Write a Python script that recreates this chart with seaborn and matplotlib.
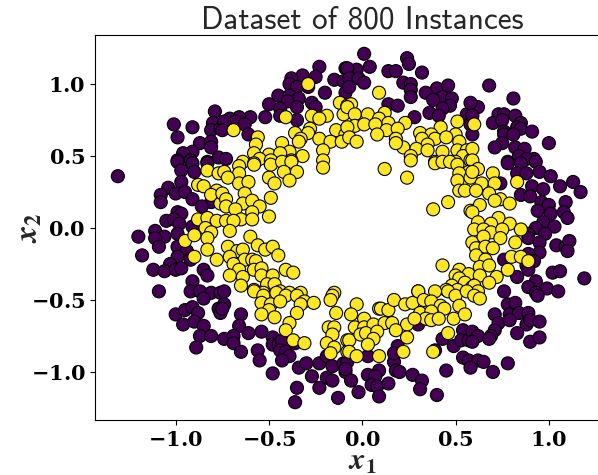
import matplotlib
matplotlib.use("Agg")
import matplotlib.pyplot as plt
import numpy as np
import pandas as pd
import seaborn as sns
from matplotlib.ticker import FuncFormatter

TITLE = "Dataset of 800 Instances"
CLASS_COLORS = {0: "#440154", 1: "#fde725"}
TICKS = [-1.0, -0.5, 0.0, 0.5, 1.0]

# outer ring (label 0)
outer_pts = [
    (-0.79, 0.81), (-0.80, 0.73), (-1.01, 0.72), (-0.91, 0.70), (-0.81, 0.68), (-0.76, 0.69),
    (-0.99, 0.63), (-0.87, 0.59), (-0.81, 0.60), (-0.81, 0.56), (-0.91, 0.53), (-0.96, 0.52),
    (-0.77, 0.49), (-0.99, 0.47), (-0.92, 0.47), (-0.83, 0.46),
    (-0.23, 1.12), (-0.09, 1.11), (-0.32, 1.06), (-0.25, 1.05), (-0.38, 1.04), (-0.39, 1.00),
    (-0.29, 0.98), (-0.35, 0.98), (-0.15, 1.03), (-0.10, 1.02), (-0.45, 0.92), (-0.39, 0.92),
    (-0.34, 0.90), (-0.40, 0.88), (-0.20, 0.94), (-0.09, 0.94), (-0.50, 0.86), (-0.27, 0.87),
    (-0.25, 0.84), (-0.35, 0.84), (-0.44, 0.83), (-0.52, 0.77), (-0.44, 0.78), (-0.35, 0.75),
    (-0.60, 0.77), (-0.66, 0.77), (-0.71, 0.76), (-0.68, 0.74), (-0.63, 0.72), (-0.74, 0.74),
    (-0.75, 0.68), (-0.61, 0.65), (-0.73, 0.48),
    (0.01, 1.21), (0.24, 1.18), (0.25, 1.14), (0.04, 1.12), (-0.03, 1.10), (-0.08, 1.11),
    (0.14, 1.09), (0.18, 1.09), (0.32, 1.08), (-0.07, 1.04), (-0.02, 1.04), (0.01, 1.01),
    (0.22, 1.01), (0.26, 1.00), (-0.07, 0.98), (0.26, 0.96), (0.40, 0.97), (0.46, 0.99),
    (0.34, 0.94), (0.43, 0.91), (0.48, 0.90), (0.26, 0.91), (0.38, 0.89), (0.14, 0.86),
    (0.19, 0.85), (0.47, 0.85), (0.43, 0.83), (0.36, 0.80), (0.41, 0.78), (0.28, 0.77),
    (0.56, 0.79), (0.58, 0.72), (0.59, 0.85),
    (0.68, 0.99), (0.81, 0.90), (0.62, 0.84), (0.58, 0.87), (0.73, 0.79), (0.76, 0.79),
    (0.82, 0.78), (0.59, 0.78), (0.70, 0.73), (0.75, 0.75), (0.85, 0.73), (0.83, 0.70),
    (0.85, 0.69), (0.91, 0.67), (0.76, 0.67), (0.59, 0.65), (0.76, 0.65), (0.81, 0.65),
    (1.00, 0.59), (0.75, 0.59), (0.71, 0.56), (0.82, 0.56), (0.87, 0.55), (0.84, 0.50),
    (0.92, 0.48), (0.78, 0.46), (0.88, 0.48),
    (-1.31, 0.36), (-0.99, 0.46), (-0.91, 0.45), (-0.83, 0.45), (-0.97, 0.40), (-0.90, 0.39),
    (-0.97, 0.32), (-1.04, 0.28), (-1.08, 0.23), (-1.00, 0.24), (-0.95, 0.25), (-1.08, 0.18),
    (-0.91, 0.20), (-0.81, 0.18), (-0.86, 0.15), (-0.99, 0.11), (-0.97, 0.10), (-1.05, 0.05),
    (-1.01, 0.06), (-0.98, 0.03), (-1.11, -0.02), (-1.06, -0.06), (-1.20, -0.06), (-1.11, -0.07),
    (-0.99, -0.04), (-0.91, 0.01), (-1.09, -0.13), (-0.99, -0.13), (-0.94, -0.16), (-1.18, -0.19),
    (-0.99, -0.20), (-1.03, -0.25), (-0.92, -0.22), (-1.12, -0.29), (-1.06, -0.30), (-1.00, -0.29),
    (-0.97, -0.28), (-0.85, -0.29), (-0.83, -0.33), (-0.91, -0.37), (-1.09, -0.44), (-0.92, -0.44),
    (-0.87, -0.44), (-0.81, -0.45), (-0.76, -0.45), (-0.74, -0.44),
    (0.78, 0.45), (0.85, 0.45), (0.93, 0.46), (0.83, 0.38), (0.88, 0.38), (0.95, 0.39),
    (1.01, 0.36), (0.74, 0.31), (0.91, 0.29), (0.97, 0.27), (1.06, 0.29), (1.13, 0.32),
    (1.17, 0.25), (0.85, 0.23), (0.90, 0.22), (0.96, 0.18), (1.00, 0.16), (1.09, 0.18),
    (0.94, 0.12), (1.01, 0.10), (1.08, 0.11), (1.10, 0.07), (0.97, 0.04), (1.03, 0.01),
    (0.93, 0.00), (0.89, -0.04), (0.98, -0.04), (0.89, -0.07), (0.95, -0.10), (1.04, -0.12),
    (1.09, -0.13), (1.11, -0.09), (1.10, -0.16), (0.95, -0.17), (0.89, -0.18), (0.92, -0.23),
    (0.76, -0.22), (0.88, -0.26), (0.89, -0.29), (1.02, -0.31), (1.06, -0.30), (1.19, -0.35),
    (0.83, -0.34), (0.93, -0.37), (0.89, -0.41), (0.99, -0.42), (1.05, -0.44), (0.76, -0.44),
    (0.93, -0.45),
    (-0.85, -0.49), (-1.00, -0.60), (-0.95, -0.57), (-0.91, -0.55), (-0.88, -0.59), (-0.77, -0.56),
    (-0.76, -0.59), (-0.96, -0.67), (-0.90, -0.65), (-0.85, -0.68), (-0.87, -0.75), (-0.81, -0.75),
    (-0.74, -0.77), (-0.89, -0.83),
    (-0.74, -0.53), (-0.65, -0.60), (-0.66, -0.68), (-0.75, -0.56), (-0.61, -0.73), (-0.54, -0.72),
    (-0.69, -0.75), (-0.69, -0.80), (-0.65, -0.86), (-0.56, -0.85), (-0.55, -0.92), (-0.48, -0.76),
    (-0.48, -0.81), (-0.45, -0.81), (-0.43, -0.78), (-0.44, -0.85), (-0.41, -0.86), (-0.39, -0.89),
    (-0.43, -0.92), (-0.36, -0.80), (-0.48, -1.01), (-0.34, -0.97), (-0.30, -0.94), (-0.27, -1.03),
    (-0.23, -0.94), (-0.19, -0.89), (-0.16, -0.96), (-0.10, -0.94), (-0.09, -1.00), (-0.19, -1.04),
    (-0.16, -1.06), (-0.35, -1.11), (-0.23, -1.11), (-0.13, -1.18), (-0.36, -1.21),
    (0.30, -0.67), (-0.08, -0.93), (-0.09, -0.98), (-0.06, -1.06), (-0.02, -1.14), (0.03, -0.89),
    (0.03, -1.02), (0.09, -0.99), (0.07, -1.03), (0.05, -1.09), (0.08, -1.10), (0.09, -1.17),
    (0.14, -1.08), (0.17, -0.93), (0.18, -0.99), (0.20, -1.00), (0.19, -0.82), (0.17, -0.87),
    (0.27, -1.02), (0.32, -1.06), (0.31, -1.12), (0.40, -1.16), (0.45, -0.99), (0.39, -0.85),
    (0.43, -0.77), (0.49, -0.82), (0.54, -0.71), (0.53, -0.78), (0.57, -0.78), (0.54, -0.90),
    (0.57, -0.92),
    (0.94, -0.47), (0.78, -0.53), (0.82, -0.52), (0.71, -0.60), (0.79, -0.60), (0.84, -0.59),
    (0.89, -0.59), (0.73, -0.66), (0.79, -0.64), (0.88, -0.67), (0.90, -0.64), (0.95, -0.65),
    (0.71, -0.71), (0.59, -0.72), (0.62, -0.75), (0.69, -0.75), (0.68, -0.77), (0.83, -0.73),
    (0.90, -0.79), (0.95, -0.76), (0.59, -0.79), (0.62, -0.92), (0.65, -0.93), (0.78, -0.94),
    (0.70, -1.00), (0.58, -0.97),
]

# inner ring (label 1)
inner_pts = [
    (-0.29, 1.00), (-0.12, 0.87), (-0.08, 0.85), (-0.10, 0.79), (-0.41, 0.77), (-0.27, 0.78),
    (-0.19, 0.78), (-0.23, 0.76), (-0.69, 0.68), (-0.28, 0.69), (-0.14, 0.68), (-0.36, 0.66),
    (-0.29, 0.66), (-0.09, 0.65), (-0.56, 0.63), (-0.33, 0.62), (-0.23, 0.62), (-0.17, 0.60),
    (-0.43, 0.59), (-0.34, 0.60), (-0.11, 0.60), (-0.57, 0.58), (-0.39, 0.53), (-0.21, 0.54),
    (-0.58, 0.52), (-0.50, 0.51), (-0.44, 0.52), (-0.32, 0.50), (-0.55, 0.48), (-0.49, 0.47),
    (-0.38, 0.47), (-0.64, 0.46), (-0.58, 0.45), (-0.21, 0.47),
    (0.09, 0.94), (-0.06, 0.86), (-0.08, 0.84), (-0.04, 0.79), (0.03, 0.79), (0.12, 0.80),
    (0.09, 0.76), (0.14, 0.73), (-0.04, 0.71), (0.01, 0.72), (0.07, 0.72), (0.23, 0.73),
    (0.51, 0.74), (-0.08, 0.70), (0.42, 0.70), (0.13, 0.68), (0.08, 0.65), (0.19, 0.69),
    (0.31, 0.66), (0.37, 0.65), (0.50, 0.65), (-0.07, 0.63), (0.18, 0.62), (0.32, 0.62),
    (0.39, 0.62), (0.45, 0.63), (-0.03, 0.60), (0.52, 0.60), (0.22, 0.56), (0.35, 0.58),
    (0.18, 0.59), (0.29, 0.55), (0.35, 0.54), (0.43, 0.53), (0.51, 0.54), (0.56, 0.54),
    (0.26, 0.50), (0.39, 0.46), (0.54, 0.50), (0.58, 0.47), (0.50, 0.46),
    (0.60, 0.72), (0.59, 0.55), (0.59, 0.47),
    (-0.83, 0.40), (-0.77, 0.38), (-0.88, 0.30), (-0.85, 0.29), (-0.78, 0.26), (-0.77, 0.22),
    (-0.81, 0.23), (-0.76, 0.17), (-0.88, 0.06), (-0.83, 0.07), (-0.78, 0.05), (-0.84, 0.00),
    (-0.81, -0.03), (-0.83, -0.07), (-0.95, -0.09), (-0.90, -0.05), (-0.83, -0.15), (-0.90, -0.20),
    (-0.78, -0.22),
    (-0.74, 0.39), (-0.66, 0.43), (-0.58, 0.44), (-0.49, 0.44), (-0.43, 0.46), (-0.38, 0.46),
    (-0.21, 0.42), (-0.66, 0.38), (-0.72, 0.35), (-0.42, 0.39), (-0.35, 0.39), (-0.50, 0.35),
    (-0.66, 0.31), (-0.61, 0.32), (-0.47, 0.31), (-0.39, 0.33), (-0.75, 0.24), (-0.63, 0.24),
    (-0.49, 0.21), (-0.73, 0.20), (-0.64, 0.17), (-0.59, 0.19), (-0.55, 0.15), (-0.73, 0.15),
    (-0.68, 0.13), (-0.59, 0.11), (-0.50, 0.08), (-0.65, 0.06), (-0.59, 0.06), (-0.73, 0.05),
    (-0.69, 0.05), (-0.71, -0.02), (-0.60, -0.06), (-0.72, -0.13), (-0.67, -0.16), (-0.64, -0.15),
    (-0.56, -0.12), (-0.52, -0.15), (-0.48, -0.13), (-0.45, -0.19), (-0.71, -0.20), (-0.63, -0.22),
    (-0.59, -0.22), (-0.69, -0.25), (-0.57, -0.23), (-0.66, -0.29), (-0.58, -0.29), (-0.54, -0.28),
    (-0.41, -0.29), (-0.37, -0.31), (-0.71, -0.33), (-0.64, -0.34), (-0.54, -0.33), (-0.48, -0.33),
    (-0.65, -0.40), (-0.51, -0.39), (-0.47, -0.39), (-0.58, -0.43), (-0.53, -0.45), (-0.44, -0.44),
    (-0.39, -0.45), (-0.33, -0.45), (-0.15, -0.45),
    (0.12, 0.41), (0.26, 0.47), (0.24, 0.35), (0.39, 0.45), (0.43, 0.46), (0.47, 0.46),
    (0.51, 0.44), (0.57, 0.39), (0.52, 0.38), (0.51, 0.33), (0.58, 0.35), (0.52, 0.26),
    (0.55, 0.26), (0.46, 0.18), (0.38, 0.13), (0.58, 0.12), (0.43, -0.26), (0.52, -0.29),
    (0.50, -0.33), (0.57, -0.32), (0.52, -0.35), (0.55, -0.38), (0.48, -0.40), (0.45, -0.43),
    (0.51, -0.43), (0.39, -0.44), (0.30, -0.44), (0.59, -0.41),
    (0.62, 0.41), (0.59, 0.39), (0.70, 0.38), (0.64, 0.31), (0.71, 0.31), (0.83, 0.32),
    (0.61, 0.26), (0.68, 0.24), (0.74, 0.20), (0.71, 0.19), (0.79, 0.17), (0.63, 0.16),
    (0.59, 0.11), (0.73, 0.07), (0.62, 0.04), (0.69, 0.03), (0.79, 0.03), (0.60, -0.01),
    (0.65, -0.01), (0.69, -0.03), (0.75, -0.01), (0.85, -0.01), (0.59, -0.10), (0.65, -0.06),
    (0.74, -0.07), (0.82, -0.10), (0.61, -0.14), (0.66, -0.13), (0.70, -0.14), (0.61, -0.19),
    (0.66, -0.22), (0.80, -0.20), (0.85, -0.20), (0.89, -0.23), (0.63, -0.27), (0.68, -0.26),
    (0.78, -0.29), (0.72, -0.34), (0.63, -0.33), (0.68, -0.38), (0.60, -0.40), (0.62, -0.44),
    (-0.58, -0.44), (-0.53, -0.47), (-0.46, -0.45), (-0.41, -0.47), (-0.35, -0.47), (-0.31, -0.51),
    (-0.26, -0.52), (-0.54, -0.52), (-0.49, -0.53), (-0.44, -0.51), (-0.33, -0.53), (-0.50, -0.57),
    (-0.54, -0.60), (-0.47, -0.62), (-0.35, -0.59), (-0.16, -0.47), (-0.17, -0.50), (-0.14, -0.59),
    (-0.39, -0.66), (-0.41, -0.71), (-0.37, -0.78), (-0.31, -0.80), (-0.18, -0.69), (-0.15, -0.69),
    (-0.16, -0.74), (-0.19, -0.80), (-0.15, -0.83), (-0.17, -0.87), (-0.08, -0.78), (-0.08, -0.86),
    (-0.03, -0.53), (-0.06, -0.60), (0.01, -0.63), (0.09, -0.56), (0.10, -0.56), (0.14, -0.57),
    (0.17, -0.50), (-0.04, -0.69), (0.01, -0.69), (0.06, -0.67), (0.12, -0.66), (0.16, -0.66),
    (0.24, -0.67), (-0.07, -0.78), (-0.01, -0.74), (0.02, -0.73), (0.08, -0.72), (0.06, -0.77),
    (0.03, -0.81), (0.18, -0.71), (0.24, -0.76), (0.22, -0.86), (-0.07, -0.86), (-0.03, -0.89),
    (0.09, -0.89), (0.23, -0.53), (0.27, -0.52), (0.30, -0.44), (0.33, -0.50), (0.37, -0.51),
    (0.42, -0.54), (0.44, -0.56), (0.31, -0.59), (0.37, -0.58), (0.34, -0.63), (0.37, -0.64),
    (0.41, -0.63), (0.28, -0.63), (0.46, -0.44), (0.50, -0.47), (0.56, -0.44), (0.52, -0.54),
    (0.49, -0.63), (0.55, -0.60), (0.46, -0.73), (0.38, -0.86),
    (0.60, -0.47), (0.63, -0.49),
]

outer = np.array(outer_pts)
inner = np.array(inner_pts)
df = pd.DataFrame({
    "x1": np.concatenate([outer[:, 0], inner[:, 0]]),
    "x2": np.concatenate([outer[:, 1], inner[:, 1]]),
    "label": [0] * len(outer) + [1] * len(inner),
})

sns.set_style("ticks")
plt.rcParams["mathtext.fontset"] = "dejavuserif"

fig = plt.figure(figsize=(5.98, 4.75), dpi=100)
# the original figure was cropped on the right, so the axes run past the edge
ax = fig.add_axes([0.159, 0.116, 0.893, 0.81])
sns.scatterplot(
    data=df, x="x1", y="x2", hue="label", palette=CLASS_COLORS,
    s=88, edgecolor="black", linewidth=0.8, legend=False, ax=ax,
)

ax.set_xlim(-1.432, 1.43)
ax.set_ylim(-1.333, 1.340)
ax.set_xticks(TICKS)
ax.set_yticks(TICKS)
fmt = FuncFormatter(lambda v, p: r"$\mathbf{%.1f}$" % v)
ax.xaxis.set_major_formatter(fmt)
ax.yaxis.set_major_formatter(fmt)
ax.tick_params(labelsize=15, colors="black")
for sp in ax.spines.values():
    sp.set_color("black")

ax.set_xlabel(r"$\mathbfit{x}_{\mathbf{1}}$", fontsize=22, math_fontfamily="stix")
ax.set_ylabel(r"$\mathbfit{x}_{\mathbf{2}}$", fontsize=23, math_fontfamily="stix")
ax.xaxis.set_label_coords(0.5, -0.07)
ax.yaxis.set_label_coords(-0.095, 0.5)
ax.set_title(TITLE, fontsize=22.5, family="cmss10", pad=5)

fig.savefig("out.png", dpi=100)
